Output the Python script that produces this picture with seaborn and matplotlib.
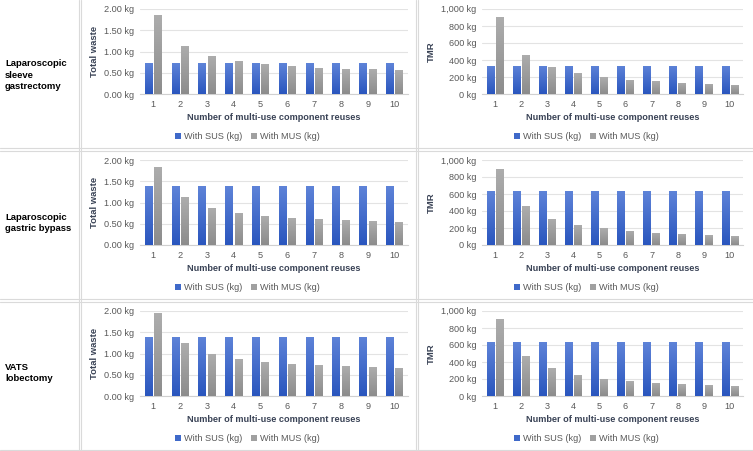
import numpy as np
import pandas as pd
import seaborn as sns
import matplotlib.pyplot as plt
from matplotlib.lines import Line2D
from matplotlib.colors import LinearSegmentedColormap

reuses = [1, 2, 3, 4, 5, 6, 7, 8, 9, 10]
procedures = ["Laparoscopic\nsleeve\ngastrectomy", "Laparoscopic\ngastric bypass", "VATS\nlobectomy"]
series = ["With SUS (kg)", "With MUS (kg)"]

# total waste (kg)
sleeve_waste_sus = [0.72, 0.72, 0.72, 0.72, 0.72, 0.72, 0.72, 0.72, 0.72, 0.72]
sleeve_waste_mus = [1.85, 1.14, 0.90, 0.78, 0.71, 0.66, 0.62, 0.60, 0.58, 0.56]
bypass_waste_sus = [1.38, 1.38, 1.38, 1.38, 1.38, 1.38, 1.38, 1.38, 1.38, 1.38]
bypass_waste_mus = [1.84, 1.12, 0.88, 0.76, 0.69, 0.64, 0.61, 0.58, 0.56, 0.55]
vats_waste_sus = [1.39, 1.39, 1.39, 1.39, 1.39, 1.39, 1.39, 1.39, 1.39, 1.39]
vats_waste_mus = [1.95, 1.24, 1.00, 0.88, 0.80, 0.76, 0.72, 0.70, 0.68, 0.66]

# TMR (kg)
sleeve_tmr_sus = [330, 330, 330, 330, 330, 330, 330, 330, 330, 330]
sleeve_tmr_mus = [905, 460, 315, 245, 200, 170, 150, 135, 120, 110]
bypass_tmr_sus = [630, 630, 630, 630, 630, 630, 630, 630, 630, 630]
bypass_tmr_mus = [900, 455, 310, 240, 195, 165, 145, 130, 115, 105]
vats_tmr_sus = [630, 630, 630, 630, 630, 630, 630, 630, 630, 630]
vats_tmr_mus = [910, 470, 325, 250, 205, 175, 155, 140, 125, 115]

waste = [(sleeve_waste_sus, sleeve_waste_mus), (bypass_waste_sus, bypass_waste_mus),
         (vats_waste_sus, vats_waste_mus)]
tmr = [(sleeve_tmr_sus, sleeve_tmr_mus), (bypass_tmr_sus, bypass_tmr_mus),
       (vats_tmr_sus, vats_tmr_mus)]

blue = "#3F69C9"
grey = "#A0A0A0"
shades = {blue: ("#5E83D8", "#2A56BE"), grey: ("#ADADAD", "#8C8C8C")}
tick_col = "#595959"
lab_col = "#3A4356"

sns.set_style("white")
plt.rcParams["font.family"] = ["Liberation Sans", "DejaVu Sans"]

W, H = 753, 451
fig = plt.figure(figsize=(W / 100, H / 100), dpi=100)


def px_axes(x0, x1, ytop, ybot):
    return fig.add_axes([x0 / W, 1 - ybot / H, (x1 - x0) / W, (ybot - ytop) / H])


def shade_bars(ax):
    xl, yl = ax.get_xlim(), ax.get_ylim()
    for p in list(ax.patches):
        fc = p.get_facecolor()
        key = blue if np.allclose(fc[:3], plt.matplotlib.colors.to_rgb(blue), atol=0.02) else grey
        top, bot = shades[key]
        cmap = LinearSegmentedColormap.from_list("g", [bot, top])
        x0, y0, w, h = p.get_x(), p.get_y(), p.get_width(), p.get_height()
        if h <= 0:
            continue
        im = ax.imshow(np.linspace(0, 1, 64).reshape(-1, 1), extent=(x0, x0 + w, y0, y0 + h),
                       origin="lower", aspect="auto", cmap=cmap, zorder=p.get_zorder() + 0.1)
        im.set_clip_path(p)
    ax.set_xlim(xl)
    ax.set_ylim(yl)


def panel(ax, sus, mus, ymax, step, fmt, ylabel, legend_x, ylab_x):
    df = pd.DataFrame({
        "reuse": reuses * 2,
        "value": list(sus) + list(mus),
        "series": [series[0]] * len(reuses) + [series[1]] * len(reuses),
    })
    sns.barplot(data=df, x="reuse", y="value", hue="series", palette=[blue, grey],
                width=0.7, gap=0.15, ax=ax, saturation=1, edgecolor="none", zorder=3)
    ax.set_ylim(0, ymax)
    ax.set_xlim(-0.5, len(reuses) - 0.5)
    ticks = np.arange(0, ymax + step / 2, step)
    ax.set_yticks(ticks)
    ax.set_yticklabels([fmt(t) for t in ticks])
    ax.yaxis.grid(True, color="#E3E3E3", linewidth=0.8, zorder=0)
    ax.set_axisbelow(True)
    for s in ["top", "right", "left"]:
        ax.spines[s].set_visible(False)
    ax.spines["bottom"].set_color("#D0D0D0")
    ax.spines["bottom"].set_linewidth(0.8)
    ax.tick_params(length=0, labelsize=6.6, labelcolor=tick_col, pad=4)
    ax.set_xlabel("Number of multi-use component reuses", fontsize=6.6, fontweight="bold",
                  color=lab_col)
    ax.xaxis.set_label_coords(0.5, -0.28)
    ax.xaxis.label.set_va("center")
    ax.set_ylabel(ylabel, fontsize=6.8, fontweight="bold", color=lab_col)
    ax.yaxis.set_label_coords(ylab_x, 0.5)
    handles, labels = ax.get_legend_handles_labels()
    ax.legend(handles, labels, loc="center", bbox_to_anchor=(legend_x, -0.5), ncol=2,
              frameon=False, fontsize=6.6, handlelength=0.65, handleheight=0.65,
              handletextpad=0.3, columnspacing=1.0, labelcolor=tick_col)
    shade_bars(ax)


row_top = [9, 160, 311]
label_mid = [75, 223, 373]
for i in range(3):
    yt = row_top[i]
    yb = yt + 85
    axl = px_axes(140, 408, yt, yb)
    panel(axl, waste[i][0], waste[i][1], 2.0, 0.5, lambda t: f"{t:.2f} kg", "Total waste",
          0.40, -0.153)
    axr = px_axes(482, 743, yt, yb)
    panel(axr, tmr[i][0], tmr[i][1], 1000, 200, lambda t: f"{t:,.0f} kg", "TMR", 0.40, -0.176)
    fig.text(5 / W, 1 - label_mid[i] / H, procedures[i], fontsize=6.8, fontweight="bold",
             color="black", va="center", ha="left", linespacing=1.3)

# table grid lines
line_col = "#DADADA"
for yy in [148, 151, 299, 302, 450]:
    fig.add_artist(Line2D([0, 1], [1 - yy / H] * 2, color=line_col, lw=0.8))
for xx in [79, 81, 416, 418]:
    fig.add_artist(Line2D([xx / W] * 2, [0, 1], color=line_col, lw=0.8))

fig.savefig("out.png", dpi=100)
